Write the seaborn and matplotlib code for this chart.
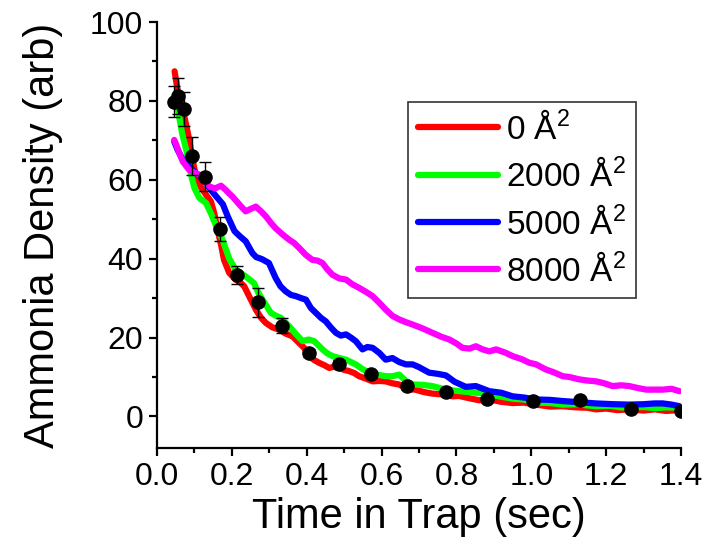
import numpy as np
import pandas as pd
import matplotlib
matplotlib.use("Agg")
import matplotlib.pyplot as plt
import seaborn as sns
from matplotlib.ticker import MultipleLocator, FormatStrFormatter
from matplotlib.lines import Line2D

# ---------------- data ----------------
red_x = [0.047,0.055,0.062,0.069,0.078,0.086,0.095,0.104,0.118,0.131,0.144,0.153,0.162,0.171,0.179,0.193,0.210,0.222,0.233,0.246,0.264,0.278,0.291,0.308,0.326,0.344,0.362,0.380,0.393,0.406,0.420,0.433,0.447,0.460,0.473,0.487,0.500,0.513,0.527,0.540,0.558,0.576,0.594,0.611,0.629,0.647,0.669,0.690,0.712,0.735,0.760,0.789,0.807,0.835,0.861,0.890,0.920,0.950,0.980,1.013,1.050,1.083,1.120,1.150,1.173,1.200,1.230,1.262,1.300,1.330,1.360,1.396]
red_y = [87.5,82.8,80.0,77.7,73.9,70.1,65.1,60.8,58.0,56.2,54.5,51.5,47.3,43.6,39.7,36.4,34.7,34.0,33.0,30.5,27.1,25.0,23.7,22.6,22.0,21.0,20.3,18.6,17.4,15.3,14.3,13.6,13.0,12.3,12.6,12.3,11.8,11.5,11.0,10.2,9.6,8.9,9.0,8.9,8.4,8.1,6.9,6.8,6.2,5.8,5.6,5.1,5.2,4.6,4.1,4.3,3.7,3.4,3.5,3.0,2.5,2.6,2.3,2.2,1.8,2.0,1.6,1.8,1.5,1.8,1.4,1.6]

green_x = [0.050,0.055,0.060,0.067,0.078,0.086,0.091,0.100,0.113,0.131,0.144,0.157,0.175,0.193,0.210,0.237,0.259,0.270,0.282,0.304,0.318,0.331,0.353,0.370,0.389,0.405,0.420,0.442,0.455,0.469,0.487,0.505,0.531,0.549,0.567,0.594,0.611,0.629,0.647,0.665,0.683,0.710,0.735,0.760,0.789,0.820,0.852,0.880,0.914,0.950,0.980,1.013,1.050,1.083,1.120,1.150,1.173,1.210,1.240,1.262,1.300,1.330,1.360,1.396]
green_y = [82.0,78.6,75.6,71.8,67.6,64.2,61.3,57.9,55.4,54.1,51.5,48.5,44.8,40.0,37.2,35.5,33.8,31.5,29.6,26.3,25.5,25.0,22.9,21.0,19.1,19.5,19.1,17.0,16.0,15.3,14.8,14.4,13.2,12.0,11.1,10.5,10.2,10.2,10.6,9.0,8.1,8.0,7.7,7.1,6.6,6.3,6.0,5.8,5.1,4.5,4.3,3.5,3.4,3.0,3.1,2.8,2.6,2.7,2.3,2.2,2.4,2.1,2.3,2.2]

blue_x = [0.046,0.055,0.069,0.082,0.095,0.109,0.127,0.140,0.158,0.176,0.189,0.207,0.220,0.237,0.255,0.265,0.280,0.299,0.317,0.330,0.344,0.358,0.371,0.385,0.398,0.411,0.424,0.438,0.451,0.465,0.478,0.491,0.505,0.518,0.531,0.549,0.562,0.576,0.594,0.611,0.629,0.647,0.665,0.683,0.700,0.727,0.750,0.772,0.795,0.825,0.852,0.888,0.920,0.950,0.980,1.013,1.050,1.084,1.130,1.173,1.220,1.262,1.300,1.330,1.351,1.375,1.396]
blue_y = [69.7,67.6,65.1,63.8,62.5,61.3,59.6,57.9,55.8,53.8,50.7,47.0,45.8,44.4,41.4,40.4,39.9,38.9,35.1,33.0,31.7,30.8,30.5,30.0,29.6,27.5,26.3,25.0,24.1,22.5,21.2,20.5,20.8,20.0,19.1,17.0,17.6,17.4,16.1,14.4,14.8,13.8,13.2,13.2,12.5,11.1,10.8,10.4,8.8,7.5,7.7,6.4,6.0,5.1,4.8,4.3,4.2,3.9,3.6,3.3,3.1,3.0,3.1,3.3,3.3,3.0,2.6]

magenta_x = [0.046,0.053,0.060,0.069,0.078,0.086,0.100,0.113,0.126,0.140,0.155,0.171,0.184,0.193,0.201,0.213,0.225,0.237,0.250,0.264,0.278,0.291,0.305,0.317,0.336,0.353,0.366,0.380,0.397,0.415,0.429,0.442,0.455,0.469,0.487,0.505,0.522,0.540,0.558,0.576,0.594,0.611,0.629,0.647,0.665,0.683,0.710,0.736,0.760,0.781,0.800,0.816,0.835,0.852,0.870,0.888,0.906,0.930,0.950,0.975,0.995,1.013,1.039,1.060,1.084,1.102,1.128,1.150,1.173,1.195,1.217,1.240,1.262,1.285,1.307,1.330,1.351,1.375,1.396]
magenta_y = [70.1,68.5,66.7,64.6,63.5,62.5,61.8,61.3,59.8,58.3,57.8,58.5,57.4,56.5,55.8,54.5,53.2,52.0,52.6,53.2,52.0,50.7,49.0,47.7,46.1,44.8,44.0,42.7,41.0,39.7,39.5,38.9,37.3,35.9,35.0,34.7,33.5,32.6,31.6,30.5,28.8,27.1,25.5,24.6,23.9,23.3,22.3,21.2,20.2,19.5,18.5,17.4,17.2,17.8,17.0,16.5,17.0,16.2,15.3,14.5,13.6,13.2,11.9,11.2,10.2,10.0,9.4,9.1,8.9,8.4,7.7,7.9,7.7,7.2,6.8,6.8,6.8,7.0,6.4]

pts_x = [0.046,0.055,0.071,0.094,0.127,0.167,0.215,0.270,0.334,0.405,0.485,0.572,0.668,0.772,0.883,1.004,1.130,1.267,1.400]
pts_y = [79.8,81.3,77.9,66.1,60.8,47.6,35.9,28.9,23.0,16.1,13.4,10.8,7.7,6.2,4.3,3.9,4.1,1.8,1.3]
pts_err = [4.0,4.5,4.3,4.8,3.7,3.0,2.3,3.6,1.9,1.0,1.0,0.8,0.8,0.6,0.6,0.5,0.5,0.5,0.5]

series_labels = ["0 Å$^2$", "2000 Å$^2$", "5000 Å$^2$", "8000 Å$^2$"]
series_colors = ["#FF0000", "#00FF00", "#0000FF", "#FF00FF"]

x_ticks = [0.0, 0.2, 0.4, 0.6, 0.8, 1.0, 1.2, 1.4]
y_ticks = [0, 20, 40, 60, 80, 100]

# ---------------- build tidy table ----------------
frames = []
for lab, xs, ys in zip(series_labels,
                       [red_x, green_x, blue_x, magenta_x],
                       [red_y, green_y, blue_y, magenta_y]):
    frames.append(pd.DataFrame({"t": xs, "d": ys, "s": lab}))
df = pd.concat(frames, ignore_index=True)
pts = pd.DataFrame({"t": pts_x, "d": pts_y, "e": pts_err})

# ---------------- style ----------------
sns.set_style("ticks")
plt.rcParams["font.family"] = ["Liberation Sans", "DejaVu Sans"]
plt.rcParams["mathtext.fontset"] = "custom"
plt.rcParams["mathtext.rm"] = "Liberation Sans"
plt.rcParams["mathtext.it"] = "Liberation Sans"
plt.rcParams["text.color"] = "black"
plt.rcParams["axes.labelcolor"] = "black"

fig = plt.figure(figsize=(7.09, 5.41), dpi=100)
ax = fig.add_axes([157/709, 1-448/541, (681-157)/709, (448-22)/541])

sns.lineplot(data=df, x="t", y="d", hue="s", hue_order=series_labels,
             palette=dict(zip(series_labels, series_colors)),
             estimator=None, sort=False, linewidth=4.5, ax=ax, legend=False)

ax.errorbar(pts["t"], pts["d"], yerr=pts["e"], fmt="none", ecolor="black",
            elinewidth=1.0, capsize=4, capthick=1.0, zorder=5)
sns.scatterplot(data=pts, x="t", y="d", color="black", s=110,
                edgecolor="black", linewidth=0, ax=ax, zorder=6, legend=False)

ax.set_xlim(0.0, 1.4)
ax.set_ylim(-8, 100)
ax.set_xticks(x_ticks)
ax.set_yticks(y_ticks)
ax.xaxis.set_minor_locator(MultipleLocator(0.1))
ax.yaxis.set_minor_locator(MultipleLocator(10))
ax.xaxis.set_major_formatter(FormatStrFormatter("%.1f"))
ax.yaxis.set_major_formatter(FormatStrFormatter("%d"))

for sp in ["top", "right"]:
    ax.spines[sp].set_visible(False)
for sp in ["left", "bottom"]:
    ax.spines[sp].set_linewidth(1.6)
    ax.spines[sp].set_color("black")

ax.tick_params(which="major", direction="out", length=6, width=1.6,
               labelsize=23, colors="black", pad=4)
ax.tick_params(which="minor", direction="out", length=3.5, width=1.6,
               colors="black")

ax.set_xlabel("Time in Trap (sec)", fontsize=30, labelpad=4, color="black")
ax.set_ylabel("Ammonia Density (arb)", fontsize=30, labelpad=19, color="black")

handles = [Line2D([0], [0], color=c, lw=4.5, solid_capstyle="round")
           for c in series_colors]
leg = ax.legend(handles, series_labels, loc="upper left",
                bbox_to_anchor=((408-157)/524, (448-102)/426),
                borderaxespad=0, fontsize=24, frameon=True, fancybox=False,
                handlelength=2.4, handletextpad=0.25, labelspacing=0.4,
                borderpad=0.3)
leg.get_frame().set_edgecolor("#333333")
leg.get_frame().set_linewidth(1.2)
leg.get_frame().set_alpha(1)
for t in leg.get_texts():
    t.set_color("black")

fig.savefig("out.png", dpi=100)
